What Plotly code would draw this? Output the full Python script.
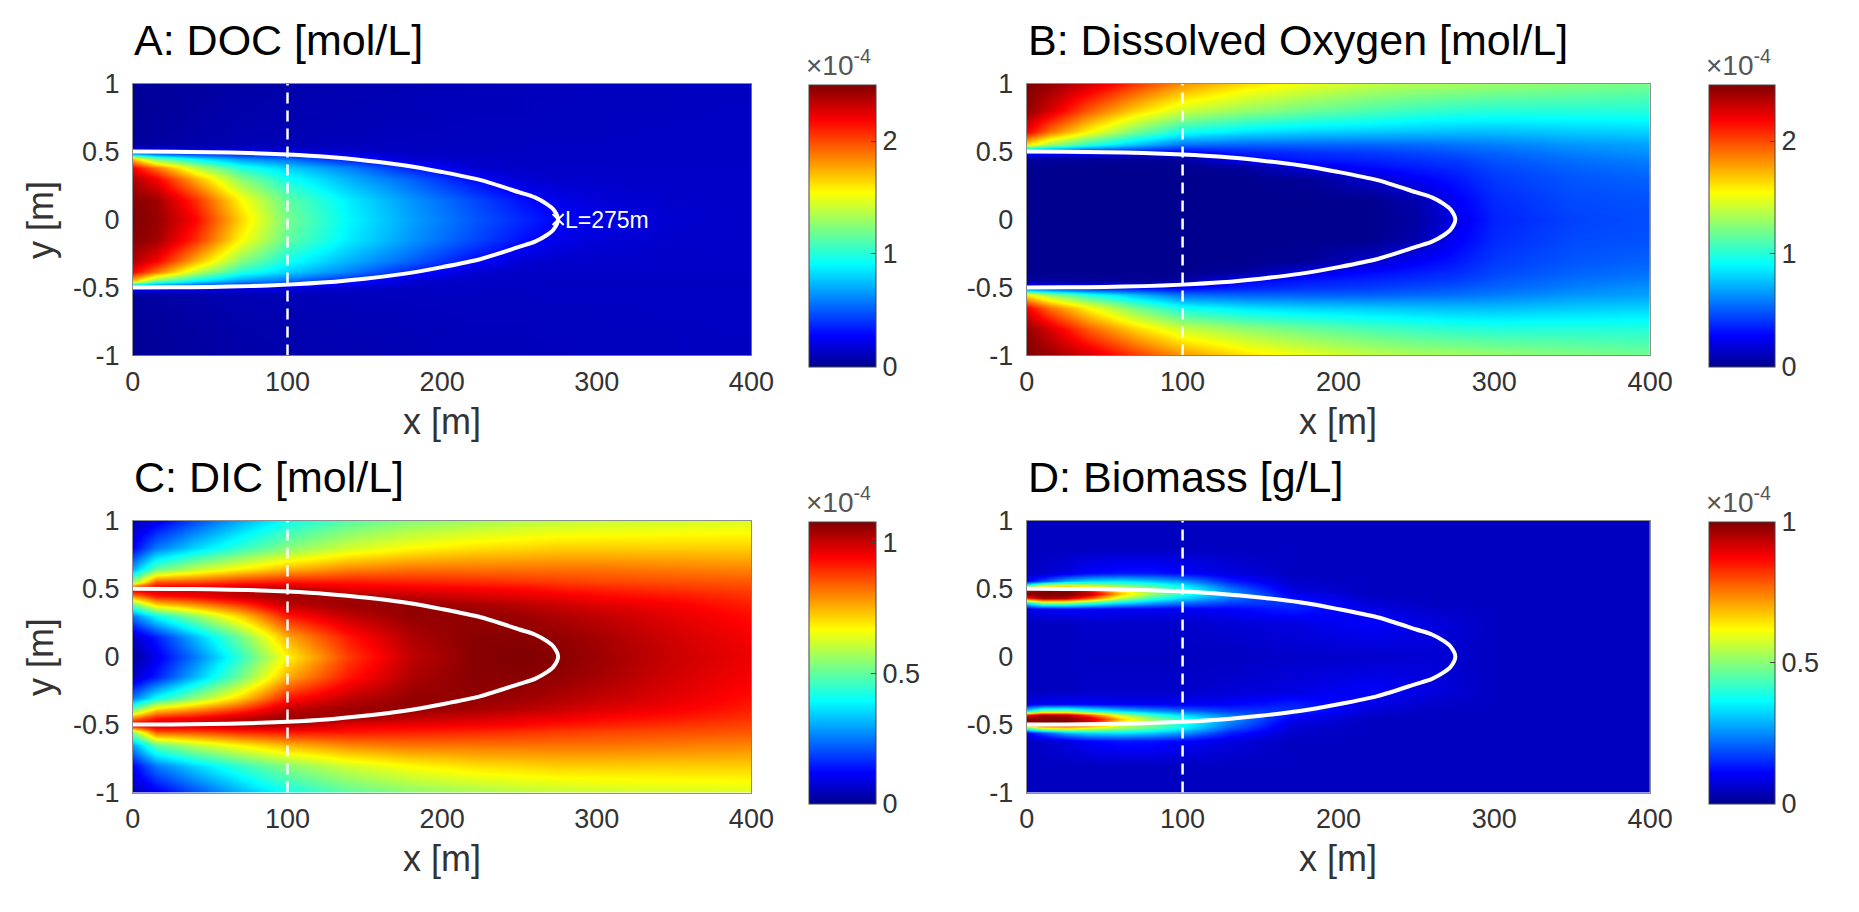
import plotly.graph_objects as go

W, H = 1859, 912

# ---- grids (x in m, y in m; only y >= 0 is listed, the fields are symmetric) ----
x_grid = [0, 15, 40, 70, 100, 140, 180, 220, 250, 275, 300, 350, 400]
y_half = [0, 0.15, 0.3, 0.38, 0.45, 0.5, 0.55, 0.65, 0.8, 1.0]

# DOC [1e-4 mol/L], rows follow y_half, columns follow x_grid
doc_half = [
    [2.50, 2.45, 2.18, 1.65, 1.20, 0.90, 0.68, 0.50, 0.38, 0.28, 0.22, 0.16, 0.14],
    [2.48, 2.42, 2.08, 1.55, 1.15, 0.87, 0.65, 0.46, 0.32, 0.22, 0.18, 0.15, 0.14],
    [2.38, 2.20, 1.75, 1.25, 0.95, 0.72, 0.52, 0.30, 0.17, 0.15, 0.15, 0.14, 0.14],
    [2.20, 1.90, 1.40, 1.00, 0.80, 0.60, 0.35, 0.16, 0.14, 0.14, 0.14, 0.14, 0.14],
    [1.70, 1.20, 0.90, 0.65, 0.55, 0.33, 0.16, 0.14, 0.13, 0.13, 0.13, 0.13, 0.13],
    [0.30, 0.28, 0.25, 0.22, 0.20, 0.15, 0.13, 0.13, 0.13, 0.13, 0.13, 0.13, 0.13],
    [0.04, 0.05, 0.07, 0.09, 0.10, 0.11, 0.12, 0.12, 0.12, 0.13, 0.13, 0.13, 0.13],
    [0.03, 0.04, 0.06, 0.08, 0.09, 0.10, 0.11, 0.12, 0.12, 0.12, 0.12, 0.13, 0.13],
    [0.02, 0.03, 0.05, 0.07, 0.08, 0.09, 0.10, 0.11, 0.11, 0.12, 0.12, 0.12, 0.13],
    [0.02, 0.03, 0.04, 0.06, 0.07, 0.08, 0.09, 0.10, 0.11, 0.11, 0.12, 0.12, 0.12],
]

# Dissolved oxygen [1e-4 mol/L]
oxy_half = [
    [0.00, 0.00, 0.00, 0.00, 0.00, 0.00, 0.00, 0.00, 0.05, 0.22, 0.36, 0.44, 0.47],
    [0.00, 0.00, 0.00, 0.00, 0.00, 0.00, 0.00, 0.00, 0.08, 0.26, 0.38, 0.46, 0.48],
    [0.00, 0.00, 0.00, 0.00, 0.00, 0.00, 0.02, 0.15, 0.26, 0.33, 0.42, 0.49, 0.52],
    [0.00, 0.00, 0.00, 0.00, 0.00, 0.03, 0.20, 0.29, 0.34, 0.38, 0.45, 0.52, 0.56],
    [0.05, 0.04, 0.03, 0.02, 0.04, 0.28, 0.34, 0.37, 0.40, 0.43, 0.49, 0.56, 0.60],
    [0.40, 0.35, 0.30, 0.30, 0.28, 0.36, 0.40, 0.43, 0.46, 0.49, 0.53, 0.60, 0.65],
    [1.60, 1.30, 1.00, 0.75, 0.55, 0.52, 0.52, 0.52, 0.54, 0.56, 0.59, 0.65, 0.68],
    [2.20, 1.90, 1.55, 1.20, 0.95, 0.85, 0.80, 0.78, 0.76, 0.75, 0.75, 0.78, 0.80],
    [2.45, 2.28, 1.95, 1.65, 1.42, 1.28, 1.18, 1.10, 1.05, 1.02, 1.00, 1.00, 1.00],
    [2.50, 2.45, 2.30, 2.05, 1.82, 1.63, 1.50, 1.40, 1.35, 1.33, 1.30, 1.25, 1.20],
]

# DIC [1e-4 mol/L]
dic_half = [
    [0.02, 0.10, 0.25, 0.45, 0.68, 0.88, 1.01, 1.07, 1.08, 1.07, 1.05, 1.00, 0.96],
    [0.06, 0.15, 0.32, 0.52, 0.76, 0.92, 1.03, 1.07, 1.07, 1.06, 1.04, 0.99, 0.95],
    [0.25, 0.40, 0.55, 0.72, 0.92, 1.01, 1.06, 1.06, 1.05, 1.03, 1.01, 0.97, 0.93],
    [0.50, 0.70, 0.78, 0.88, 1.01, 1.05, 1.06, 1.04, 1.02, 1.00, 0.98, 0.95, 0.91],
    [0.80, 0.92, 0.95, 1.01, 1.05, 1.04, 1.01, 0.99, 0.97, 0.96, 0.94, 0.92, 0.89],
    [1.00, 1.00, 1.00, 1.02, 1.03, 0.97, 0.96, 0.95, 0.94, 0.92, 0.91, 0.89, 0.87],
    [0.55, 0.85, 0.86, 0.90, 0.92, 0.92, 0.91, 0.90, 0.89, 0.88, 0.87, 0.86, 0.85],
    [0.30, 0.50, 0.60, 0.68, 0.75, 0.80, 0.82, 0.82, 0.82, 0.82, 0.82, 0.81, 0.80],
    [0.12, 0.25, 0.35, 0.45, 0.54, 0.62, 0.67, 0.70, 0.71, 0.72, 0.72, 0.72, 0.72],
    [0.04, 0.10, 0.20, 0.31, 0.41, 0.49, 0.54, 0.57, 0.59, 0.60, 0.61, 0.62, 0.63],
]

# Biomass [1e-4 g/L] on a grid refined around the plume fringe
x_bio = [0, 10, 25, 40, 60, 80, 100, 130, 170, 220, 260, 300, 400]
y_bio_half = [0, 0.25, 0.35, 0.4, 0.43, 0.46, 0.49, 0.52, 0.56, 0.62, 0.8, 1.0]
bio_half = [
    [0.05, 0.05, 0.05, 0.05, 0.05, 0.05, 0.05, 0.05, 0.06, 0.06, 0.07, 0.05, 0.05],
    [0.05, 0.05, 0.05, 0.06, 0.06, 0.06, 0.06, 0.07, 0.08, 0.11, 0.08, 0.05, 0.05],
    [0.08, 0.10, 0.11, 0.11, 0.10, 0.10, 0.10, 0.11, 0.14, 0.09, 0.06, 0.05, 0.05],
    [0.35, 0.50, 0.50, 0.42, 0.33, 0.27, 0.22, 0.17, 0.16, 0.07, 0.05, 0.05, 0.05],
    [0.85, 0.97, 0.95, 0.80, 0.56, 0.42, 0.33, 0.23, 0.12, 0.06, 0.05, 0.05, 0.05],
    [1.00, 1.00, 1.00, 0.95, 0.68, 0.52, 0.40, 0.27, 0.10, 0.05, 0.05, 0.05, 0.05],
    [0.95, 1.00, 1.00, 0.88, 0.62, 0.50, 0.40, 0.24, 0.08, 0.05, 0.05, 0.05, 0.05],
    [0.45, 0.60, 0.65, 0.60, 0.52, 0.45, 0.36, 0.20, 0.07, 0.05, 0.05, 0.05, 0.05],
    [0.10, 0.18, 0.28, 0.33, 0.34, 0.31, 0.26, 0.14, 0.06, 0.05, 0.05, 0.05, 0.05],
    [0.05, 0.06, 0.08, 0.11, 0.13, 0.13, 0.11, 0.08, 0.05, 0.05, 0.05, 0.05, 0.05],
    [0.05, 0.05, 0.05, 0.05, 0.05, 0.05, 0.05, 0.05, 0.05, 0.05, 0.05, 0.05, 0.05],
    [0.05, 0.05, 0.05, 0.05, 0.05, 0.05, 0.05, 0.05, 0.05, 0.05, 0.05, 0.05, 0.05],
]

# plume fringe (upper half), L = 275 m
boundary_x = [0, 25, 50, 75, 100, 125, 150, 175, 200, 225, 250, 260, 268, 272, 275]
boundary_y = [0.5, 0.499, 0.496, 0.49, 0.479, 0.462, 0.435, 0.40, 0.35, 0.29, 0.20,
              0.163, 0.112, 0.074, 0.0]
plume_length = 275
cut_x = 100

titles = ["A: DOC [mol/L]", "B: Dissolved Oxygen [mol/L]", "C: DIC [mol/L]", "D: Biomass [g/L]"]
cmax = [2.5, 2.5, 1.08, 1.0]
cticks = [[0, 1, 2], [0, 1, 2], [0, 0.5, 1], [0, 0.5, 1]]

# MATLAB jet(64)
jet = [[0.0, "rgb(0,0,143)"], [0.111, "rgb(0,0,255)"], [0.365, "rgb(0,255,255)"],
       [0.619, "rgb(255,255,0)"], [0.873, "rgb(255,0,0)"], [1.0, "rgb(128,0,0)"]]


def mirror(yh, zh):
    y = [-v for v in reversed(yh[1:])] + list(yh)
    z = [list(r) for r in reversed(zh[1:])] + [list(r) for r in zh]
    return y, z


# panel boxes in pixels: (left, right, top, bottom); colorbar boxes likewise
panels = [(127, 756, 71, 352), (1036, 1670, 71, 352),
          (127, 756, 523, 804), (1036, 1670, 523, 804)]
cbars = [(815, 882, 72, 354), (1730, 1796, 72, 354),
         (815, 882, 524, 806), (1730, 1796, 524, 806)]

fields = [(x_grid, y_half, doc_half), (x_grid, y_half, oxy_half),
          (x_grid, y_half, dic_half), (x_bio, y_bio_half, bio_half)]

TXT = "#333333"
FONT = "Liberation Sans, Arial, Helvetica, sans-serif"

fig = go.Figure()
layout = dict(width=W, height=H, margin=dict(l=0, r=0, t=0, b=0),
              paper_bgcolor="white", plot_bgcolor="white", showlegend=False,
              font=dict(family=FONT, color=TXT))
annotations = []

fringe_x = boundary_x + boundary_x[::-1][1:]
fringe_y = boundary_y + [-v for v in boundary_y[::-1][1:]]

for i in range(4):
    sfx = "" if i == 0 else str(i + 1)
    xa, ya = "x" + sfx, "y" + sfx
    l, r, t, b = panels[i]
    cl, cr, ct, cb = cbars[i]
    xg, yh, zh = fields[i]
    yy, zz = mirror(yh, zh)

    fig.add_trace(go.Heatmap(
        x=xg, y=yy, z=zz, xaxis=xa, yaxis=ya, zsmooth="best",
        colorscale=jet, zmin=0, zmax=cmax[i], hoverinfo="skip",
        colorbar=dict(
            x=cl / W, xanchor="left", xpad=0, ypad=0,
            y=1 - ct / H, yanchor="top", lenmode="pixels", len=cb - ct,
            thicknessmode="pixels", thickness=cr - cl,
            outlinewidth=1, outlinecolor="#444444",
            tickvals=cticks[i], ticktext=[("%g" % v) for v in cticks[i]],
            ticks="inside", ticklen=5, tickcolor="#444444",
            tickfont=dict(size=27, color=TXT, family=FONT),
        ),
    ))
    # plume fringe
    fig.add_trace(go.Scatter(x=fringe_x, y=fringe_y, xaxis=xa, yaxis=ya, mode="lines",
                             line=dict(color="white", width=4, shape="spline", smoothing=0.8),
                             hoverinfo="skip"))
    # control plane at x = 100 m
    fig.add_trace(go.Scatter(x=[cut_x, cut_x], y=[-1, 1], xaxis=xa, yaxis=ya, mode="lines",
                             line=dict(color="white", width=2.5, dash="11px,7px"),
                             hoverinfo="skip"))

    axis_common = dict(showgrid=False, zeroline=False, showline=True, mirror=True,
                       linecolor="rgba(70,70,70,0.6)", linewidth=1, ticks="",
                       tickfont=dict(size=27, color=TXT, family=FONT))
    layout["xaxis" + sfx] = dict(domain=[l / W, r / W], range=[0, 400], anchor=ya,
                                 tickvals=[0, 100, 200, 300, 400], ticklabelstandoff=2,
                                 **axis_common)
    layout["yaxis" + sfx] = dict(domain=[1 - b / H, 1 - t / H], range=[-1, 1], anchor=xa,
                                 tickvals=[-1, -0.5, 0, 0.5, 1],
                                 ticktext=["-1", "-0.5", "0", "0.5", "1"],
                                 ticklabelstandoff=7, **axis_common)

    # panel title
    annotations.append(dict(text=titles[i], xref="paper", yref="paper", x=(l - 1) / W,
                            xanchor="left", y=1 - (t - 45) / H, yanchor="middle",
                            showarrow=False, font=dict(size=43, color="black", family=FONT)))
    # colorbar exponent
    annotations.append(dict(text="\u00d710<sup>-4</sup>", xref="paper", yref="paper",
                            x=(cl - 5) / W, xanchor="left", y=1 - (ct - 2) / H,
                            yanchor="bottom", showarrow=False,
                            font=dict(size=28, color="#555555", family=FONT)))
    # x-axis title
    annotations.append(dict(text="x [m]", xref="paper", yref="paper", x=(l + r) / 2 / W,
                            xanchor="center", y=1 - (b + 68) / H, yanchor="middle",
                            showarrow=False, font=dict(size=36, color=TXT, family=FONT)))
    if i in (0, 2):
        annotations.append(dict(text="y [m]", xref="paper", yref="paper", x=33 / W,
                                xanchor="center", y=1 - (t + b) / 2 / H, yanchor="middle",
                                textangle=-90, showarrow=False,
                                font=dict(size=36, color=TXT, family=FONT)))

# plume length marker in panel A
fig.add_trace(go.Scatter(x=[plume_length], y=[0], xaxis="x", yaxis="y", mode="markers",
                         marker=dict(symbol="x-thin", size=11,
                                     line=dict(color="white", width=2)),
                         hoverinfo="skip"))
annotations.append(dict(text="L=%dm" % plume_length, x=plume_length + 3, y=0, xref="x",
                        yref="y", xanchor="left", yanchor="middle", showarrow=False,
                        font=dict(size=23, color="white", family=FONT)))

layout["annotations"] = annotations
fig.update_layout(**layout)
fig.write_html("out.html")
